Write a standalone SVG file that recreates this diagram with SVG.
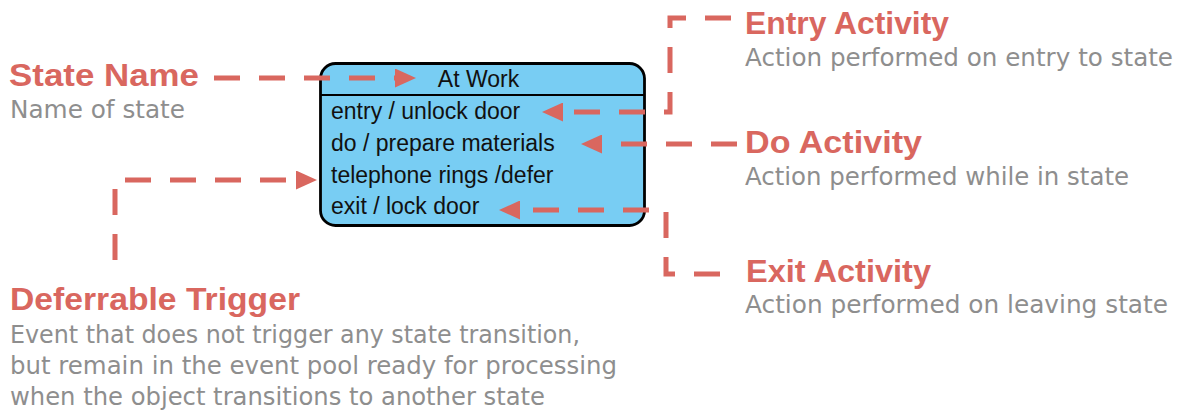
<svg xmlns="http://www.w3.org/2000/svg" width="1186" height="414" viewBox="0 0 1186 414">
  <style>
    .bg { fill: #ffffff; }
    .state { fill: #78CDF3; stroke: #000000; stroke-width: 2.8; }
    .sep { stroke: #000000; stroke-width: 2.2; }
    .title { font-family: "Liberation Sans", Arial, sans-serif; font-size: 23px; fill: #111111; text-anchor: middle; }
    .row { font-family: "Liberation Sans", Arial, sans-serif; font-size: 23px; fill: #111111; }
    .head { font-family: "Liberation Sans", Arial, sans-serif; font-size: 32px; font-weight: bold; fill: #D9675F; }
    .desc { font-family: "DejaVu Sans", "Liberation Sans", sans-serif; font-size: 24px; fill: #8E8E8E; }
    .conn { fill: none; stroke: #D9675F; stroke-width: 5; stroke-dasharray: 26 19; }
  </style>
  <defs>
    <marker id="arrow" markerUnits="userSpaceOnUse" markerWidth="21" markerHeight="19" refX="0" refY="9.5" orient="auto">
      <path d="M0,0 L21,9.5 L0,19 Z" fill="#D9675F"/>
    </marker>
  </defs>
  <rect class="bg" x="0" y="0" width="1186" height="414"/>

  <g id="state-at-work">
    <rect class="state" x="320.5" y="63.5" width="324" height="162" rx="15" ry="15"/>
    <line class="sep" x1="320.5" y1="95" x2="644.5" y2="95"/>
    <text class="title" x="478.5" y="87">At Work</text>
    <text class="row" x="331" y="119">entry / unlock door</text>
    <text class="row" x="331" y="151">do / prepare materials</text>
    <text class="row" x="331" y="183">telephone rings /defer</text>
    <text class="row" x="331" y="214">exit / lock door</text>
  </g>

  <g id="label-state-name">
    <text class="head" x="9" y="86" textLength="190" lengthAdjust="spacingAndGlyphs">State Name</text>
    <text class="desc" x="10" y="118" textLength="175" lengthAdjust="spacingAndGlyphs">Name of state</text>
  </g>

  <g id="label-entry-activity">
    <text class="head" x="745" y="34" textLength="204" lengthAdjust="spacingAndGlyphs">Entry Activity</text>
    <text class="desc" x="745" y="66" textLength="428" lengthAdjust="spacingAndGlyphs">Action performed on entry to state</text>
  </g>

  <g id="label-do-activity">
    <text class="head" x="745" y="153" textLength="177" lengthAdjust="spacingAndGlyphs">Do Activity</text>
    <text class="desc" x="745" y="185" textLength="384" lengthAdjust="spacingAndGlyphs">Action performed while in state</text>
  </g>

  <g id="label-exit-activity">
    <text class="head" x="746" y="282" textLength="185" lengthAdjust="spacingAndGlyphs">Exit Activity</text>
    <text class="desc" x="745" y="313" textLength="423" lengthAdjust="spacingAndGlyphs">Action performed on leaving state</text>
  </g>

  <g id="label-deferrable-trigger">
    <text class="head" x="10" y="310" textLength="290" lengthAdjust="spacingAndGlyphs">Deferrable Trigger</text>
    <text class="desc" x="10" y="343" textLength="570" lengthAdjust="spacingAndGlyphs">Event that does not trigger any state transition,</text>
    <text class="desc" x="10" y="374" textLength="607" lengthAdjust="spacingAndGlyphs">but remain in the event pool ready for processing</text>
    <text class="desc" x="10" y="405" textLength="535" lengthAdjust="spacingAndGlyphs">when the object transitions to another state</text>
  </g>

  <g id="connectors">
    <path class="conn" d="M214,78 H395" marker-end="url(#arrow)"/>
    <path class="conn" d="M731,18 H670 V112 H563" marker-end="url(#arrow)"/>
    <path class="conn" d="M737,144 H602" marker-end="url(#arrow)"/>
    <path class="conn" d="M720,274 H666 V210 H520" marker-end="url(#arrow)"/>
    <path class="conn" d="M115,260 V180 H296" marker-end="url(#arrow)"/>
  </g>
</svg>
